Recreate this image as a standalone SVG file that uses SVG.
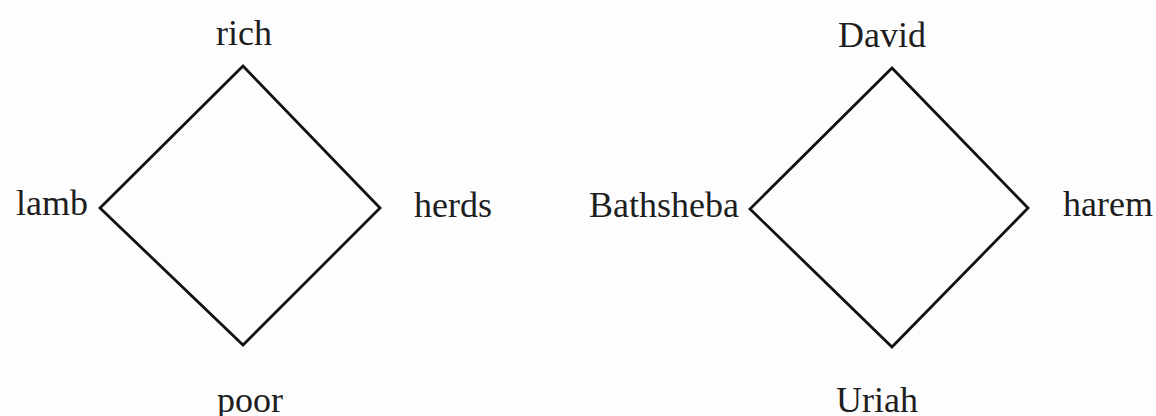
<svg xmlns="http://www.w3.org/2000/svg" width="1156" height="416" viewBox="0 0 1156 416">
<style>
.bg{fill:#fdfdfd}
.edge{fill:none;stroke:#111;stroke-width:2.8;stroke-linejoin:miter}
.lbl{font-family:"Liberation Serif","Times New Roman",serif;font-size:36px;fill:#1e1e1e}
.m{text-anchor:middle}
.e{text-anchor:end}
.s{text-anchor:start}
</style>
<rect class="bg" x="0" y="0" width="1156" height="416"/>
<g id="connectors">
<polygon id="diamond-left" class="edge" points="243,66 380,208 243,345 100,208"/>
<polygon id="diamond-right" class="edge" points="892,68 1028,208 892,347 750,209"/>
</g>
<g id="node-rich"><text class="lbl m" x="244" y="45">rich</text></g>
<g id="node-lamb"><text class="lbl e" x="88" y="215">lamb</text></g>
<g id="node-herds"><text class="lbl s" x="414" y="217">herds</text></g>
<g id="node-poor"><text class="lbl m" x="250" y="412">poor</text></g>
<g id="node-david"><text class="lbl m" x="882" y="47">David</text></g>
<g id="node-bathsheba"><text class="lbl e" x="739" y="217">Bathsheba</text></g>
<g id="node-harem"><text class="lbl s" x="1063" y="216">harem</text></g>
<g id="node-uriah"><text class="lbl m" x="877" y="412">Uriah</text></g>
</svg>
